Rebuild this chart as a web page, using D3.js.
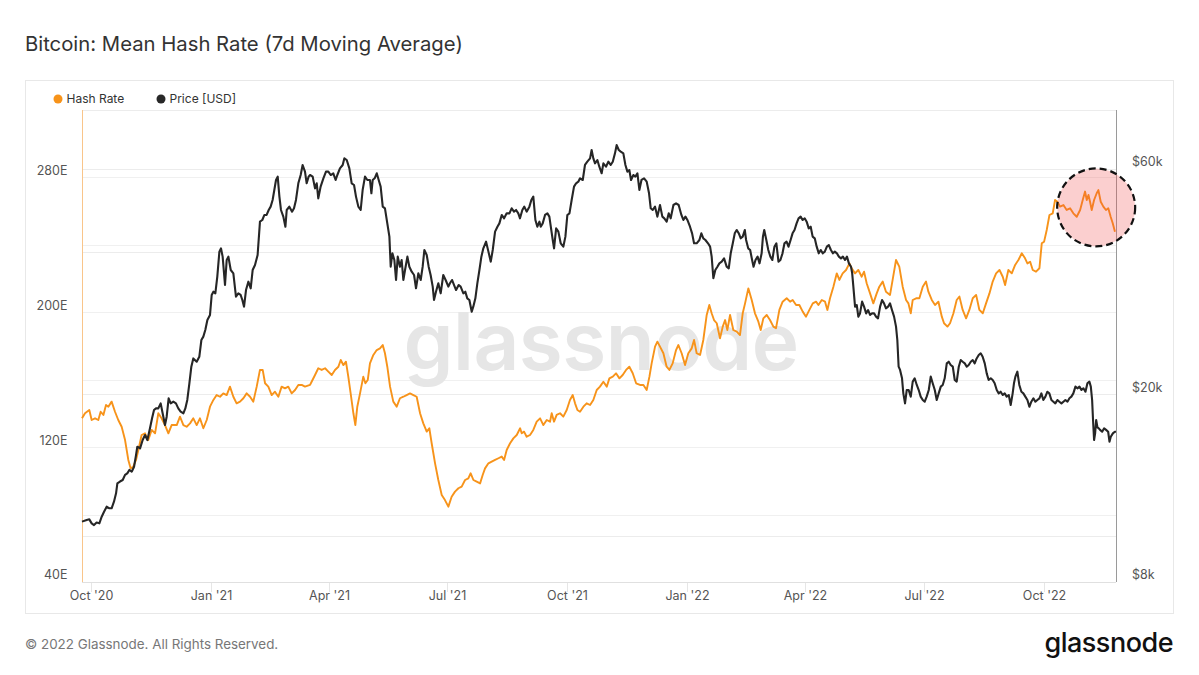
<!DOCTYPE html>
<html><head><meta charset="utf-8">
<script src="https://cdn.jsdelivr.net/npm/d3@7"></script>
<style>body{margin:0;background:#fff;} svg{display:block;font-family:Inter,"Noto Sans",sans-serif;}</style>
</head><body><svg id="chart" width="1199" height="675"></svg>
<script>
// ---------- data ----------
const START_DATE = "2020-09-24";
const END_DAY = 792.5;
// [days since START_DATE, hash rate in EH/s]
const hashRateSeries = [[0,137.1],[2.3,140.1],[5.6,142.0],[7.4,136.1],[10,137.1],[12.5,136.1],[14.3,141.0],[16.4,139.1],[18.4,145.0],[20.2,144.0],[22.7,147.0],[25.3,141.0],[27.8,136.1],[30.4,132.1],[33,124.2],[35.5,112.4],[37.3,107.4],[39.3,108.4],[41.4,112.4],[43.2,118.3],[45.7,127.2],[48.3,128.2],[50.8,124.2],[53.4,130.2],[56,128.2],[58.5,140.1],[61,137.1],[63.6,133.1],[66.2,128.2],[68.7,133.1],[72.6,133.1],[75.1,138.1],[77.7,133.1],[80.2,132.1],[82.8,134.1],[85.3,137.1],[87.9,133.1],[90.4,137.1],[93,131.2],[95.6,136.1],[98.1,144.0],[100.7,148.0],[103.2,150.9],[105.8,149.9],[108.3,151.9],[110.9,150.9],[113.4,155.9],[116,149.9],[118.5,146.0],[121.1,147.0],[123.7,149.0],[126.2,151.9],[128.8,149.9],[131.3,147.0],[133.9,155.9],[136.4,165.8],[138.5,165.8],[140.3,157.9],[142.8,155.9],[145.4,150.9],[147.9,152.9],[150.5,149.9],[153,155.9],[155.6,154.9],[158.1,155.9],[160.7,151.9],[163.3,153.9],[165.8,156.9],[168.4,156.9],[170.9,155.9],[174.8,156.9],
[176.0,158.8],[178.6,162.8],[181.1,166.8],[183.7,165.8],[186.3,166.8],[188.8,164.8],[191.4,162.8],[193.9,165.8],[196.5,167.7],[198.3,171.7],[200.3,168.7],[202.3,170.7],[204.1,161.8],[205.9,151.9],[208,140.1],[209.5,133.1],[211.0,144.0],[213.1,151.9],[215.6,161.8],[217.2,157.9],[219,159.8],[220.7,169.7],[223.3,174.7],[225.9,177.6],[228.4,178.6],[230.5,180.6],[232.2,175.7],[234.0,167.7],[236.1,155.9],[238.6,147.0],[241.2,144.0],[243.7,149.0],[246.3,149.9],[248.8,150.9],[251.4,151.9],[254,150.9],[256.5,149.9],[259.1,140.1],[261.6,134.1],[264.2,129.2],[266.2,131.2],[268.0,122.3],[270.6,110.4],[273.1,100.5],[275.7,91.6],[278.2,88.6],[280.8,84.7],[283.3,90.6],[285.9,93.6],[288.5,95.6],[291.0,96.6],[293.6,100.5],[296.1,101.5],[297.9,104.5],[300.0,100.5],[302.5,99.5],[305.1,98.5],[307.1,103.5],[308.9,107.4],[311.5,110.4],[314.0,111.4],[316.6,112.4],[319.2,113.4],[321.7,114.4],[323.5,112.4],[325.5,118.3],[328.1,122.3],[330.6,125.2],[333.2,127.2],[335.8,131.2],[337.0,128.2],[338.8,129.2],[340.8,126.2],[343.4,127.2],[345.9,130.2],[348.5,135.1],[351.1,137.1],[353.6,133.1],[356.2,136.1],[358.7,135.1],[360.0,140.1],[361.8,135.1],[363.8,139.1],[366.4,140.1],[368.9,138.1],[371.5,142.0],[374.0,148.0],[376.1,150.9],[377.9,146.0],[379.7,142.0],[381.7,141.0],
[384.3,144.0],[386.8,146.0],[389.4,145.0],[391.9,148.0],[394.5,153.9],[397.0,155.9],[399.6,158.8],[402.2,155.9],[404.2,160.8],[406.8,161.8],[409.3,163.8],[411.9,160.8],[414.4,162.8],[417.0,165.8],[419.5,167.7],[422.1,163.8],[424.7,157.9],[427.7,156.9],[430.3,156.9],[432.8,153.9],[434.9,161.8],[436.6,169.7],[439.2,179.6],[441.0,182.6],[443.0,179.6],[445.6,175.7],[448.1,167.7],[450.2,165.8],[452.7,169.7],[455.3,177.6],[457.1,180.6],[459.6,175.7],[462.2,168.7],[464.7,175.7],[467.3,178.6],[469.1,183.6],[471.1,175.7],[473.7,174.7],[476.2,183.6],[478.8,198.4],[480.8,204.3],[482.6,199.4],[484.4,195.4],[486.5,193.5],[489.0,184.6],[491.1,191.5],[492.9,195.4],[494.6,189.5],[496.7,198.4],[499.2,189.5],[501.8,188.5],[504.3,186.5],[506.4,199.4],[508.2,205.3],[510.7,214.2],[513.3,207.3],[515.8,199.4],[518.4,194.4],[520.2,189.5],[522.2,196.4],[524.8,198.4],[527.3,195.4],[529.9,191.5],[531.9,190.5],[534.5,201.4],[537.0,206.3],[540.1,208.3],[542.7,206.3],[544.7,207.3],[547.3,204.3],[549.8,204.3],[552.4,200.4],[554.9,197.4],[557.5,201.4],[560.1,205.3],[562.6,206.3],[564.4,204.3],[567.0,207.3],[569.5,206.3],[571.3,201.4],[573.3,208.3],[575.9,215.2],[578.5,223.1],[580.5,219.2],[583.0,223.1],[585.6,225.1],[588.2,229.0],
[589.9,226.1],[592.5,223.1],[595.0,225.1],[597.6,221.1],[599.4,224.1],[601.4,217.2],[604.0,211.2],[606.5,205.3],[609.1,211.2],[611.1,215.2],[613.7,218.2],[616.2,212.2],[619.3,210.3],[621.3,219.2],[623.9,231.0],[626.4,227.1],[629.0,215.2],[631.6,207.3],[633.4,205.3],[635.2,199.4],[636.7,207.3],[639.3,208.3],[641.8,208.3],[644.4,215.2],[646.9,218.2],[648.7,212.2],[651.3,207.3],[653.8,204.3],[656.4,206.3],[659.0,197.4],[660.7,193.5],[663.3,191.5],[665.3,193.5],[667.9,199.4],[670.4,207.3],[672.5,209.3],[675.0,201.4],[677.6,196.4],[680.1,201.4],[682.7,208.3],[685.3,210.3],[687.8,201.4],[690.4,199.4],[692.9,205.3],[695.5,211.2],[698.0,218.2],[700.6,223.1],[703.2,225.1],[705.7,221.1],[707.5,216.2],[710.0,225.1],[712.6,223.1],[715.2,228.1],[717.7,231.0],[720.3,235.0],[722.8,232.0],[724.6,229.0],[726.7,230.0],[728.7,225.1],[731.2,224.1],[733.8,226.1],[735.6,240.9],[737.4,241.9],[739.4,248.8],[741.5,257.7],[744.0,258.7],[745.8,266.6],[747.6,265.6],[749.6,262.7],[752.2,263.6],[754.7,260.7],[757.3,261.7],[759.8,258.7],[762.4,256.7],[765.0,260.7],[767.0,266.6],[768.8,271.6],[770.1,266.6],[771.4,269.6],[772.6,265.6],[773.9,260.7],[775.7,266.6],[777.7,270.6],[779.0,272.5],[780.8,265.6],[782.8,262.7],[784.8,260.7],[786.6,261.7],[788.4,256.7],[790.0,252.8],[791.7,247.8]];
// [days since START_DATE, BTC price in thousands of USD]
const priceSeries = [[0,10.74],[3.6,10.83],[5.6,10.86],[7.4,10.65],[9.2,10.56],[11.2,10.69],[13.3,10.65],[15.1,11.0],[16.9,11.27],[18.9,11.55],[21.0,11.46],[22.7,11.46],[24.5,11.84],[26.1,12.33],[27.1,12.95],[29.1,13.06],[31.2,13.16],[33.0,13.49],[34.7,13.59],[36.3,13.82],[38.1,13.70],[39.9,14.04],[41.4,14.86],[42.4,15.48],[44.5,15.35],[46.5,15.99],[48.3,16.39],[50.1,15.99],[52.1,16.93],[53.7,17.78],[55.2,18.51],[56.7,18.66],[58.5,18.66],[60.3,19.12],[61.8,18.22],[63.6,17.21],[64.9,17.92],[66.4,19.60],[68.0,19.12],[70.0,19.28],[72.0,19.12],[73.8,18.66],[75.6,18.36],[77.7,18.22],[79.2,18.66],[80.7,19.44],[82.3,21.09],[83.8,22.87],[85.3,23.81],[87.9,23.43],[89.9,24.0],[91.5,26.05],[93.0,26.48],[94.5,27.35],[96.1,28.73],[98.1,29.44],[99.4,32.45],[100.7,32.97],[102.2,32.71],[103.7,35.49],[105.3,40.09],[106.5,40.74],[107.8,39.12],[109.6,34.07],[110.9,38.49],[112.2,39.12],[114.0,36.65],[116.0,36.07],[118.0,32.19],[119.8,32.71],[121.6,32.45],[122.9,31.66],[124.2,30.65],[125.7,33.24],[127.5,34.62],[129.3,33.52],[130.8,36.65],[132.6,37.56],[134.6,39.44],[136.4,46.40],[138.2,46.78],[139.8,47.94],[141.5,47.94],[143.1,49.12],[144.6,49.93],[146.1,51.58],[147.4,54.15],[148.7,56.86],[150.0,57.80],[151.3,52.43],[152.5,49.12],[154.3,47.55],[155.9,45.27],[156.9,49.12],[158.9,49.93],[161.0,48.72],[162.5,49.52],[164.0,51.58],[165.8,55.95],[167.6,58.26],[169.1,61.18],[170.9,59.22],[172.2,55.95],[173.7,57.80],[174.8,58.26],
[176.8,57.80],[178.6,54.59],[179.9,55.95],[181.1,51.99],[182.9,55.04],[185.0,57.33],[187.0,59.22],[188.8,59.22],[190.6,58.26],[192.6,58.75],[194.4,56.86],[195.7,58.26],[197.7,60.18],[199.8,61.18],[201.1,63.19],[202.9,62.68],[204.9,60.18],[206.7,55.95],[208.5,55.49],[210.0,52.43],[211.8,49.93],[213.6,49.12],[215.1,54.15],[216.9,57.80],[218.7,56.86],[220.7,56.86],[221.8,53.28],[222.8,56.86],[224.3,57.33],[225.9,58.75],[227.4,56.86],[228.9,55.04],[230.5,49.93],[232.2,49.52],[234.0,46.02],[235.6,43.13],[236.6,37.25],[237.9,39.76],[239.4,38.49],[240.7,34.91],[242.0,39.12],[243.7,37.25],[245.0,38.49],[246.3,34.91],[247.6,36.65],[249.4,39.12],[250.9,37.25],[252.7,36.35],[254.5,35.77],[256.0,33.52],[257.8,36.07],[259.6,34.91],[261.1,37.25],[262.4,40.41],[264.2,39.44],[265.7,37.25],[267.2,35.77],[268.8,33.80],[269.8,31.66],[271.3,32.97],[273.1,34.35],[274.9,32.71],[276.9,35.77],[278.7,34.91],[280.8,33.80],[282.0,34.35],[283.6,34.91],[285.1,34.07],[286.7,33.24],[288.7,34.07],[290.2,33.80],[292.3,32.71],[293.8,32.97],[295.3,31.92],[296.9,31.66],[298.7,29.90],[299.9,30.65],[301.5,31.92],[303.0,34.35],[304.6,36.65],[306.1,39.12],[307.6,40.74],[309.7,42.09],[311.5,40.09],[313.3,38.17],[314.8,40.41],[316.6,44.19],[318.4,45.27],[319.9,46.02],[321.7,47.94],[323.5,47.16],[325.5,48.32],[327.6,48.32],[329.3,49.52],[331.1,48.72],[332.7,49.12],[334.4,48.32],[335.7,47.16],[337.5,49.12],[339.0,49.93],[340.8,48.72],[342.9,49.93],[344.4,51.58],[345.9,52.43],[347.5,46.78],[349.0,45.27],[350.6,46.40],[351.6,45.27],[353.1,46.02],[354.9,47.94],[356.7,48.32],[358.2,47.55],[359.3,45.27],[360.8,42.43],[361.8,40.74],[363.4,44.9],[365.1,44.19],[366.9,41.75],[368.9,41.07],[370.5,43.13],[372.0,47.94],[373.6,48.32],[375.3,51.58],[377.1,55.04],[378.7,55.95],[380.4,56.40],[381.7,57.33],
[383.8,56.86],[385.5,61.18],[387.3,62.17],[389.4,63.19],[390.6,65.81],[391.9,63.19],[393.2,61.67],[395.0,62.68],[396.5,60.67],[398.3,58.75],[399.6,61.67],[401.6,60.67],[403.4,62.17],[405.2,61.18],[406.8,62.17],[408.5,64.75],[409.8,67.43],[411.4,65.81],[412.9,65.3],[414.9,64.75],[416.5,61.18],[418.0,59.22],[419.5,59.69],[420.8,56.86],[422.6,58.26],[424.1,57.80],[425.7,58.75],[427.2,54.15],[428.8,56.86],[430.8,57.33],[432.8,56.40],[434.6,53.28],[435.9,49.52],[437.4,49.12],[439.2,49.93],[441.0,47.55],[443.0,50.33],[444.8,47.55],[446.3,47.16],[448.1,46.40],[449.7,48.32],[451.2,47.16],[453.3,50.33],[455.3,50.74],[457.3,50.33],[459.4,47.94],[460.9,46.78],[462.5,47.55],[464.0,46.78],[466.0,45.27],[467.6,43.83],[469.1,41.75],[471.1,41.75],[473.2,42.43],[474.7,43.83],[476.2,42.78],[477.8,42.43],[479.8,41.75],[481.4,41.07],[482.6,39.12],[483.9,35.20],[485.4,36.65],[487.0,37.25],[488.5,37.86],[490.3,38.17],[492.1,38.80],[494.1,37.25],[495.7,36.95],[497.2,39.76],[498.8,41.75],[500.3,43.83],[501.8,44.55],[503.4,43.83],[504.9,42.78],[506.4,43.13],[508.0,44.55],[509.0,42.43],[510.6,40.74],[512.1,40.41],[513.6,38.49],[514.7,37.25],[516.2,38.49],[517.8,39.12],[519.3,37.86],[520.9,39.76],[521.9,43.13],[522.9,44.55],[524.5,42.43],[526.0,40.41],[527.6,39.12],[529.1,38.49],[530.7,41.07],[532.2,41.75],[533.8,38.17],[535.3,38.49],[536.9,39.76],[538.4,41.75],[540.0,42.09],[541.5,41.07],[543.1,42.43],[544.6,43.83],[546.1,44.55],[547.7,46.02],[549.2,47.16],[550.8,47.55],[552.3,46.78],[553.9,47.16],[555.4,46.40],[557.0,44.9],[558.5,45.27],[560.0,43.13],[561.6,42.78],[563.1,41.07],[564.7,39.76],[566.2,40.41],[567.8,39.76],[569.3,40.09],[570.9,41.07],[572.4,41.4],[574.0,40.41],[575.5,39.76],[577.0,40.09],[578.6,39.76],[580.1,39.12],[581.7,38.80],[583.2,39.12],[584.8,38.49],[586.3,39.12],[587.8,37.86],[589.4,37.25],
[590.3,36.07],[591.2,33.80],[592.5,30.65],[593.8,30.90],[595.0,29.19],[596.3,29.66],[597.9,31.41],[599.4,30.65],[601.0,29.66],[602.5,30.15],[604.0,29.44],[605.5,29.66],[607.1,29.66],[608.6,29.19],[610.1,28.95],[611.7,30.65],[613.2,31.66],[614.7,31.15],[616.2,30.40],[617.8,30.65],[619.3,31.15],[620.8,30.15],[622.4,29.19],[623.9,27.80],[624.9,26.05],[625.9,22.87],[627.0,22.51],[628.5,21.61],[629.5,20.08],[630.8,19.12],[632.1,20.41],[633.6,20.41],[635.2,19.76],[636.7,21.26],[638.2,21.61],[639.8,20.92],[641.3,20.41],[642.8,19.76],[644.4,19.44],[645.9,19.28],[647.4,19.76],[649.0,20.41],[650.5,21.79],[652.0,21.09],[653.6,20.41],[655.1,19.44],[656.6,20.08],[658.2,20.75],[659.7,20.92],[661.2,21.61],[662.8,23.24],[664.3,23.43],[665.8,23.06],[667.4,22.87],[668.9,21.43],[670.4,21.26],[672.0,22.87],[673.5,23.62],[675.0,23.43],[676.6,23.24],[678.1,22.87],[679.6,23.06],[681.2,23.43],[682.7,23.62],[684.2,23.24],[685.7,23.81],[687.3,24.21],[688.8,24.41],[690.3,24.0],[691.9,23.24],[693.4,22.14],[694.9,21.43],[696.5,21.61],[698.0,21.43],[699.5,21.09],[701.1,20.41],[702.6,20.08],[704.1,20.24],[705.7,19.92],[707.2,20.08],[708.7,19.76],[710.3,19.92],[711.8,18.97],[713.3,20.08],[714.3,21.09],[715.4,21.79],[716.9,22.32],[718.4,20.92],[720.0,20.24],[721.5,20.08],[723.0,19.76],[724.6,19.44],[726.1,18.81],[727.6,19.28],[729.2,19.60],[730.7,19.28],[732.2,19.44],[733.8,19.60],[735.3,20.08],[736.8,19.44],[738.4,19.76],[739.9,20.24],[741.4,20.08],[743.0,19.44],[744.5,19.28],[746.0,19.12],[747.6,19.44],[749.1,19.28],[750.7,19.12],[752.2,19.28],[753.7,19.44],[755.3,19.28],[756.8,19.60],[758.3,19.76],[759.8,20.08],[761.4,20.75],[762.9,20.58],[764.5,20.75],[766.0,20.41],[767.5,20.58],[769.1,20.24],[770.6,21.09],[772.1,21.26],[773.2,20.75],[774.2,19.44],[774.9,17.63],[775.7,15.99],[776.5,16.52],[777.3,17.63],[778.3,17.0],[779.3,16.93],[780.3,16.8],[781.9,16.65],[783.4,16.93],[784.9,16.8],[786.5,16.65],[787.5,15.86],[788.5,16.25],[790.1,16.52],[791.6,16.65],[792.5,16.65]];

const leftGridTicks = [40,80,120,160,200,240,280,320];
const leftLabelTicks = [40,120,200,280];
const rightGridTicks = [8,10,20,40,60,80];
const rightLabelTicks = [8,20,60];
const xTickDates = ["2020-10-01","2021-01-01","2021-04-01","2021-07-01","2021-10-01","2022-01-01","2022-04-01","2022-07-01","2022-10-01"];
const xTickLabels = ["Oct '20","Jan '21","Apr '21","Jul '21","Oct '21","Jan '22","Apr '22","Jul '22","Oct '22"];
const legendItems = [{name:"Hash Rate", color:"#f7931a"},{name:"Price [USD]", color:"#282828"}];
const highlight = {day: 777.3, value: 262.2};

// ---------- layout ----------
const plot = {left: 82, right: 1116, top: 110, bottom: 582};
const DAY = 864e5;
const t0 = new Date(START_DATE + "T00:00:00Z").getTime();
const toDate = d => new Date(t0 + d * DAY);

const svg = d3.select("#chart");
const x = d3.scaleUtc().domain([toDate(0), toDate(END_DAY)]).range([plot.left, plot.right]);
const yL = d3.scaleLinear().domain([40, 320]).range([plot.bottom, plot.top]);
const yR = d3.scaleLog().domain([8, 80]).range([plot.bottom, plot.top]);

// frame
svg.append("rect").attr("x", 25.5).attr("y", 80.5).attr("width", 1148).attr("height", 533)
  .attr("fill", "none").attr("stroke", "#e8e8e8");

// title
svg.append("text").attr("x", 25).attr("y", 51).attr("font-size", 20.3).attr("fill", "#333")
  .text("Bitcoin: Mean Hash Rate (7d Moving Average)");

// legend
const lg = svg.append("g");
legendItems.forEach((it, i) => {
  const gx = i === 0 ? 58 : 161;
  lg.append("circle").attr("cx", gx).attr("cy", 99).attr("r", 4.5).attr("fill", it.color);
  lg.append("text").attr("x", gx + 8.5).attr("y", 103.3).attr("font-size", 12).attr("fill", "#333").text(it.name);
});

// gridlines
const grid = svg.append("g");
leftGridTicks.forEach(v => {
  grid.append("line").attr("x1", plot.left).attr("x2", plot.right)
    .attr("y1", Math.round(yL(v)) + 0.5).attr("y2", Math.round(yL(v)) + 0.5)
    .attr("stroke", "#f0f0f0");
});
rightGridTicks.forEach(v => {
  grid.append("line").attr("x1", plot.left).attr("x2", plot.right)
    .attr("y1", Math.round(yR(v)) + 0.5).attr("y2", Math.round(yR(v)) + 0.5)
    .attr("stroke", "#ececec");
});

// watermark
svg.append("text").attr("x", 601).attr("y", 370)
  .attr("text-anchor", "middle").attr("font-size", 80).attr("font-weight", 600)
  .attr("fill", "#e6e6e6").attr("letter-spacing", -0.5).text("glassnode");

// x ticks
xTickDates.forEach((d, i) => {
  const xx = Math.round(x(new Date(d + "T00:00:00Z"))) + 0.5;
  svg.append("line").attr("x1", xx).attr("x2", xx).attr("y1", plot.bottom).attr("y2", plot.bottom + 10)
    .attr("stroke", "#e6e6e6");
  svg.append("text").attr("x", xx).attr("y", 597).attr("dominant-baseline", "middle")
    .attr("text-anchor", "middle").attr("font-size", 12.5).attr("fill", "#555").text(xTickLabels[i]);
});

// axes lines
svg.append("line").attr("x1", plot.left).attr("x2", plot.right).attr("y1", plot.bottom + 0.5).attr("y2", plot.bottom + 0.5)
  .attr("stroke", "#e0e0e0");
svg.append("line").attr("x1", plot.left + 0.5).attr("x2", plot.left + 0.5).attr("y1", plot.top).attr("y2", plot.bottom)
  .attr("stroke", "#f9c58a");

// lines
const hashLine = d3.line().x(d => x(toDate(d[0]))).y(d => yL(d[1]));
const priceLine = d3.line().x(d => x(toDate(d[0]))).y(d => yR(d[1]));
svg.append("path").datum(hashRateSeries).attr("d", hashLine).attr("fill", "none")
  .attr("stroke", "#f7931a").attr("stroke-width", 1.9).attr("stroke-linejoin", "round");
svg.append("path").datum(priceSeries).attr("d", priceLine).attr("fill", "none")
  .attr("stroke", "#262626").attr("stroke-width", 2.1).attr("stroke-linejoin", "round");

// right end line
svg.append("line").attr("x1", plot.right + 0.5).attr("x2", plot.right + 0.5).attr("y1", plot.top).attr("y2", plot.bottom)
  .attr("stroke", "#9a9a9a");

// axis labels
leftLabelTicks.forEach(v => {
  svg.append("text").attr("x", 67.5).attr("y", yL(v) - 6).attr("dominant-baseline", "middle")
    .attr("text-anchor", "end").attr("font-size", 12.5).attr("fill", "#555").text(v + "E");
});
rightLabelTicks.forEach(v => {
  svg.append("text").attr("x", 1132).attr("y", yR(v) - 6).attr("dominant-baseline", "middle")
    .attr("text-anchor", "start").attr("font-size", 12.5).attr("fill", "#555").text("$" + v + "k");
});

// highlight circle
svg.append("circle").attr("cx", x(toDate(highlight.day))).attr("cy", yL(highlight.value)).attr("r", 39)
  .attr("fill", "rgba(240,70,70,0.26)").attr("stroke", "#111").attr("stroke-width", 2.2)
  .attr("stroke-dasharray", "7,4");

// footer
svg.append("text").attr("x", 25).attr("y", 645).attr("dominant-baseline", "middle")
  .attr("font-size", 13.4).attr("fill", "#777").text("© 2022 Glassnode. All Rights Reserved.");
svg.append("text").attr("x", 1173).attr("y", 652).attr("text-anchor", "end")
  .attr("font-size", 27).attr("font-weight", 500).attr("fill", "#111").attr("letter-spacing", -0.5).text("glassnode");
</script></body></html>
